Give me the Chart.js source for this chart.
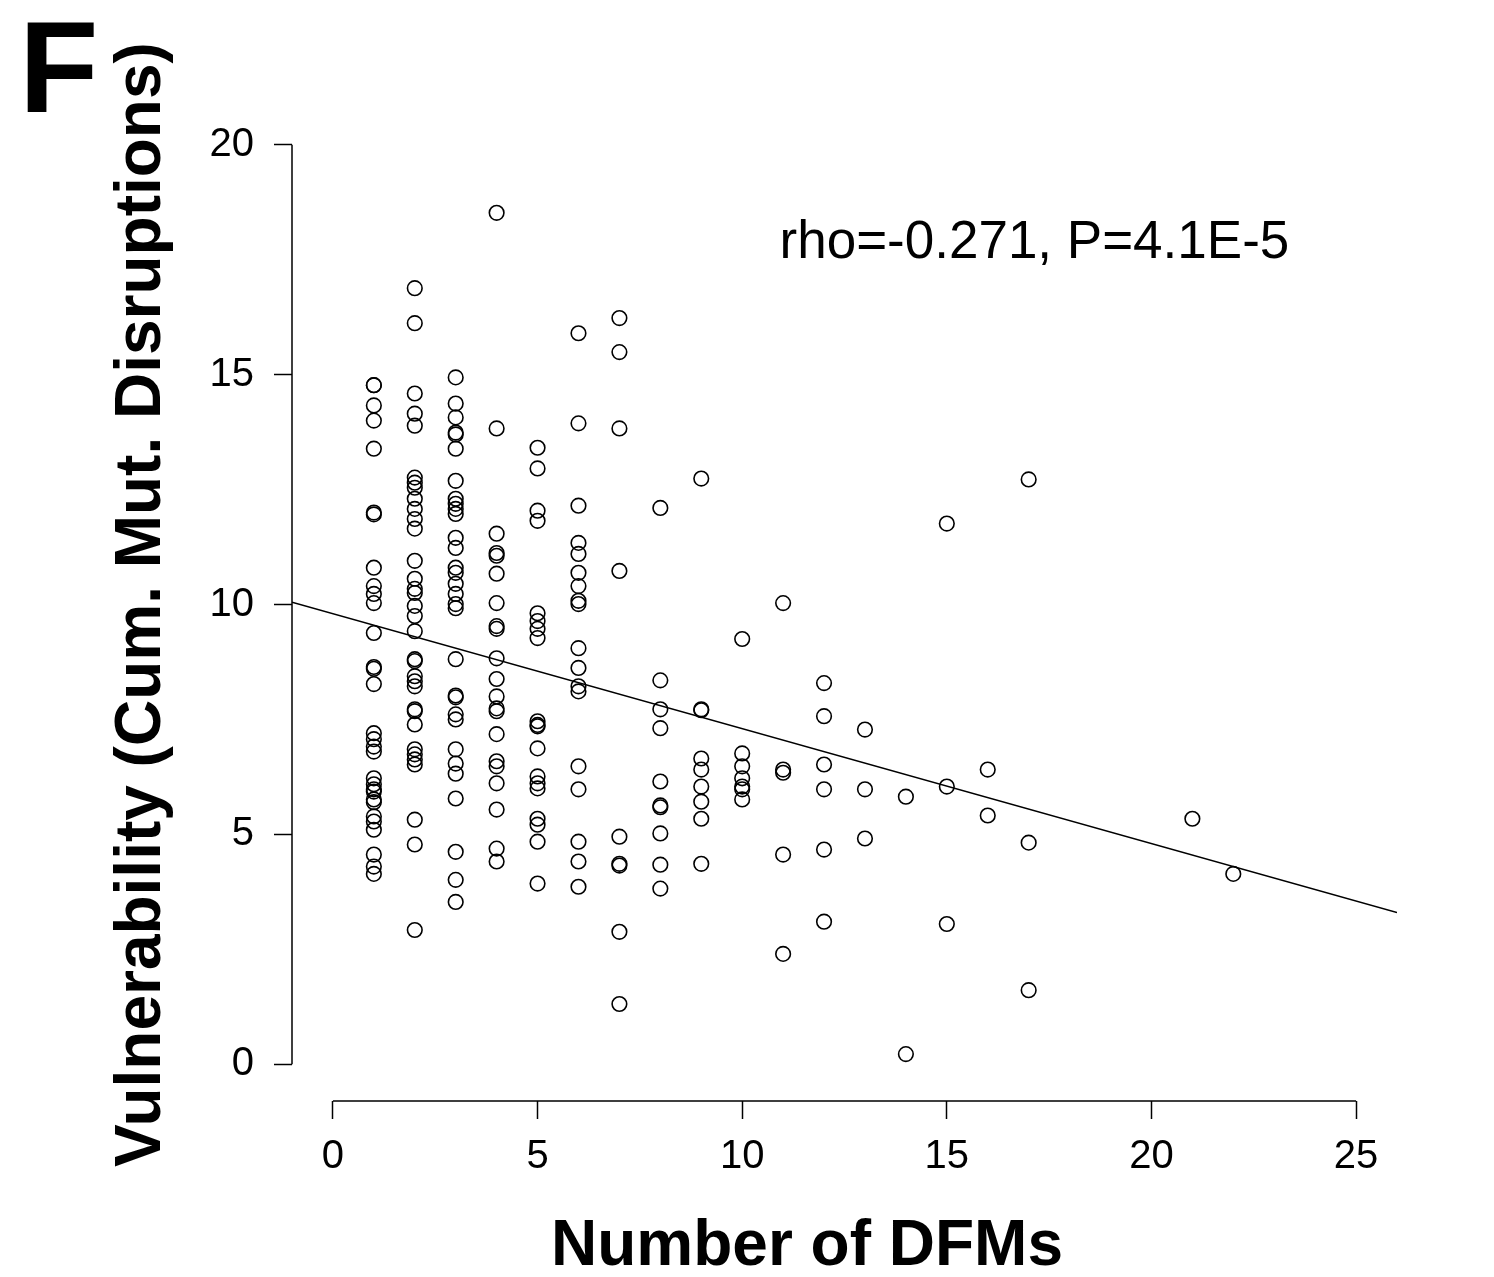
<!DOCTYPE html>
<html><head><meta charset="utf-8">
<script src="https://cdn.jsdelivr.net/npm/chart.js@4/dist/chart.umd.min.js"></script>
<style>html,body{margin:0;padding:0;background:#fff;}#wrap{width:1494px;height:1277px;position:relative;}</style>
</head><body><div id="wrap"><canvas id="c" width="1494" height="1277"></canvas></div>
<script>
// ---- data ----
const dfmLevels = [1, 2, 3, 4, 5, 6, 7, 8, 9, 10, 11, 12, 13, 14, 15, 16, 17, 21, 22];
const vulnerabilityByDfm = [
  [14.77, 14.77, 14.33, 14.00, 13.39, 12.00, 11.96, 10.80, 10.40, 10.23, 10.03, 9.38, 8.64, 8.60, 8.27, 7.20, 7.07, 6.91, 6.80, 6.22, 6.09, 5.98, 5.93, 5.76, 5.70, 5.39, 5.28, 5.10, 4.56, 4.30, 4.14],
  [16.88, 16.12, 14.59, 14.15, 13.89, 12.76, 12.65, 12.54, 12.30, 12.08, 11.86, 11.65, 10.95, 10.56, 10.34, 10.25, 9.97, 9.75, 9.42, 8.81, 8.77, 8.44, 8.33, 8.22, 7.72, 7.68, 7.39, 6.85, 6.74, 6.63, 6.52, 5.32, 4.78, 2.92],
  [14.94, 14.37, 14.07, 13.74, 13.70, 13.39, 12.69, 12.30, 12.19, 12.08, 11.97, 11.45, 11.23, 10.80, 10.69, 10.45, 10.23, 10.01, 9.92, 8.81, 8.02, 7.98, 7.61, 7.50, 6.85, 6.54, 6.32, 5.78, 4.62, 4.01, 3.53],
  [18.52, 13.83, 11.54, 11.12, 11.06, 10.67, 10.03, 9.53, 9.47, 8.83, 8.38, 8.00, 7.74, 7.68, 7.18, 6.59, 6.48, 6.11, 5.54, 4.69, 4.41],
  [13.41, 12.96, 12.04, 11.82, 9.81, 9.64, 9.47, 9.27, 7.46, 7.38, 7.35, 6.87, 6.26, 6.11, 6.00, 5.34, 5.21, 4.84, 3.93],
  [15.90, 13.94, 12.15, 11.34, 11.10, 10.69, 10.40, 10.08, 10.01, 9.05, 8.62, 8.22, 8.11, 6.48, 5.98, 4.84, 4.41, 3.86],
  [16.23, 15.49, 13.83, 10.73, 4.95, 4.36, 4.32, 2.88, 1.31],
  [12.10, 8.35, 7.72, 7.31, 6.15, 5.63, 5.59, 5.02, 4.34, 3.82],
  [12.74, 7.72, 7.70, 6.65, 6.41, 6.04, 5.71, 5.34, 4.36],
  [9.25, 6.76, 6.48, 6.22, 6.04, 5.98, 5.76],
  [10.03, 6.41, 6.34, 4.56, 2.40],
  [8.29, 7.57, 6.52, 5.98, 4.67, 3.10],
  [7.28, 5.98, 4.91],
  [5.82, 0.22],
  [11.76, 6.04, 3.05],
  [6.41, 5.41],
  [12.72, 4.82, 1.61],
  [5.34],
  [4.14]
];
const xTicks = [0, 5, 10, 15, 20, 25];
const yTicks = [0, 5, 10, 15, 20];
const xRange = [-1, 26];
const yRange = [-0.8, 20.8];
const fitIntercept = 9.8;
const fitSlope = -0.25;
const panelLabel = 'F';
const xTitle = 'Number of DFMs';
const yTitle = 'Vulnerability (Cum. Mut. Disruptions)';
const annotationText = 'rho=-0.271, P=4.1E-5';
const annotationAt = [17.14, 17.54];

// ---- build ----
const points = [];
dfmLevels.forEach((d, i) => vulnerabilityByDfm[i].forEach(v => points.push({x: d, y: v})));
const fitPoints = xRange.map(x => ({x: x, y: fitIntercept + fitSlope * x}));

const FONT = '"Liberation Sans", Arial, Helvetica, sans-serif';

const rAxes = {
  id: 'rAxes',
  afterDraw(chart) {
    const ctx = chart.ctx, xs = chart.scales.x, ys = chart.scales.y, ca = chart.chartArea;
    ctx.save();
    ctx.strokeStyle = '#000';
    ctx.lineWidth = 1.5;
    ctx.beginPath();
    ctx.moveTo(ca.left, ys.getPixelForValue(yTicks[0]));
    ctx.lineTo(ca.left, ys.getPixelForValue(yTicks[yTicks.length - 1]));
    ctx.moveTo(xs.getPixelForValue(xTicks[0]), ca.bottom);
    ctx.lineTo(xs.getPixelForValue(xTicks[xTicks.length - 1]), ca.bottom);
    ctx.stroke();

    ctx.fillStyle = '#000';
    ctx.font = 'bold 130px ' + FONT;
    ctx.textAlign = 'left';
    ctx.textBaseline = 'alphabetic';
    ctx.fillText(panelLabel, 19, 112);

    ctx.font = 'bold 64px ' + FONT;
    ctx.textAlign = 'center';
    ctx.fillText(xTitle, 807, 1265);

    ctx.save();
    ctx.translate(160, (ca.top + ca.bottom) / 2);
    ctx.rotate(-Math.PI / 2);
    ctx.font = 'bold 64px ' + FONT;
    ctx.fillText(yTitle, 0, 0);
    ctx.restore();

    ctx.font = '53px ' + FONT;
    ctx.textAlign = 'center';
    ctx.fillText(annotationText, xs.getPixelForValue(annotationAt[0]), ys.getPixelForValue(annotationAt[1]));
    ctx.restore();
  }
};

const tickFont = {family: FONT, size: 40};
const gridOpts = {display: true, drawOnChartArea: false, drawTicks: true, tickLength: 18, tickColor: '#000', tickWidth: 1.5};

new Chart(document.getElementById('c'), {
  type: 'scatter',
  data: {
    datasets: [
      {
        type: 'line', data: fitPoints, borderColor: '#000', borderWidth: 1.5,
        pointRadius: 0, fill: false, tension: 0
      },
      {
        data: points, pointStyle: 'circle', pointRadius: 7.3, pointHoverRadius: 7.3,
        backgroundColor: 'rgba(0,0,0,0)', borderColor: '#000', borderWidth: 1.6
      }
    ]
  },
  options: {
    responsive: false, animation: false, devicePixelRatio: 1,
    layout: {padding: {top: 108, right: 97, left: 0, bottom: 0}},
    plugins: {legend: {display: false}, tooltip: {enabled: false}},
    scales: {
      x: {
        type: 'linear', min: xRange[0], max: xRange[1],
        afterBuildTicks: s => { s.ticks = xTicks.map(v => ({value: v})); },
        afterFit: s => { s.height = 176; },
        grid: gridOpts, border: {display: false},
        ticks: {font: tickFont, color: '#000', padding: 14, autoSkip: false, maxRotation: 0, callback: v => String(v)}
      },
      y: {
        type: 'linear', min: yRange[0], max: yRange[1],
        afterBuildTicks: s => { s.ticks = yTicks.map(v => ({value: v})); },
        afterFit: s => { s.width = 292; },
        grid: gridOpts, border: {display: false},
        ticks: {font: tickFont, color: '#000', padding: 20, autoSkip: false, callback: v => String(v)}
      }
    }
  },
  plugins: [rAxes]
});
</script>
</body></html>
